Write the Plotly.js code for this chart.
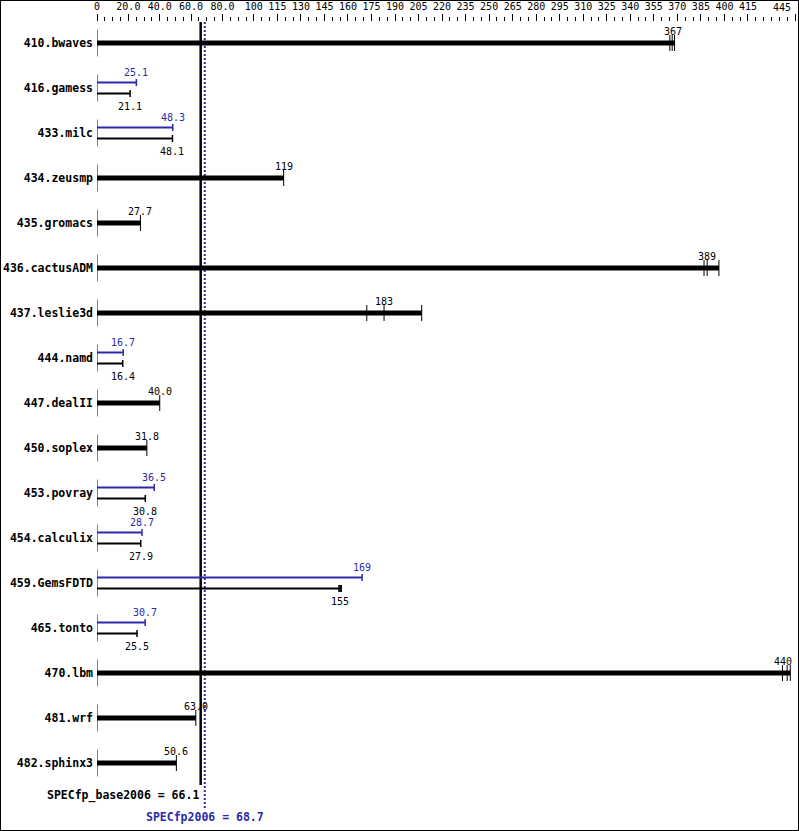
<!DOCTYPE html>
<html>
<head>
<meta charset="utf-8">
<script src="https://cdn.plot.ly/plotly-3.0.1.min.js"></script>
<style>
  html, body { margin: 0; padding: 0; background: #fff; }
  #chart { width: 797px; height: 829px; border: 1px solid #000; }
</style>
</head>
<body>
<div id="chart"></div>
<script>
// ---------- data ----------
const benchmarks = ['410.bwaves','416.gamess','433.milc','434.zeusmp','435.gromacs','436.cactusADM',
  '437.leslie3d','444.namd','447.dealII','450.soplex','453.povray','454.calculix','459.GemsFDTD',
  '465.tonto','470.lbm','481.wrf','482.sphinx3'];
const baseValues = [367, 21.1, 48.1, 119, 27.7, 389, 183, 16.4, 40.0, 31.8, 30.8, 27.9, 155, 25.5, 440, 63.0, 50.6];
const baseLabels = ['367','21.1','48.1','119','27.7','389','183','16.4','40.0','31.8','30.8','27.9','155','25.5','440','63.0','50.6'];
const peakValues = [null, 25.1, 48.3, null, null, null, null, 16.7, null, null, 36.5, 28.7, 169, 30.7, null, null, null];
const peakLabels = ['', '25.1', '48.3', '', '', '', '', '16.7', '', '', '36.5', '28.7', '169', '30.7', '', '', ''];
// individual run results (base)
const baseRuns = [
  [365.2, 366.7, 368.2], [21.1], [48.1], [119], [27.7], [387, 389, 396.5],
  [172, 183, 207], [16.4], [40.0], [31.8], [30.8], [27.9], [154.3, 155, 155.7],
  [25.5], [437, 440, 442], [63.0], [50.6]
];
const specBase = 66.1;
const specPeak = 68.7;
const specBaseLabel = 'SPECfp_base2006 = 66.1';
const specPeakLabel = 'SPECfp2006 = 68.7';
const axisTickVals = [0,20,40,60,80,100,115,130,145,160,175,190,205,220,235,250,265,280,295,310,325,340,355,370,385,400,415,445];
const axisTickText = ['0','20.0','40.0','60.0','80.0','100','115','130','145','160','175','190','205','220','235','250','265','280','295','310','325','340','355','370','385','400','415','445'];
const axisMax = 445;

// ---------- styling ----------
const BLUE = '#2a2aaa';
const MONO = 'DejaVu Sans Mono, monospace';
const PX = 45;               // pixels per row
const thinOff = 5.5 / PX;    // offset of peak/base thin bars from row centre
const capH = 3.5 / PX;
const runH = 8 / PX;
const axisH = 13.5 / PX;
const yTop = -21 / PX;
const yBottom = 16 + 45 / PX;

const rows = benchmarks.map((_, i) => i);
const hasPeak = peakValues.map(v => v !== null);

// last tick label is drawn left of its tick (as in the reference), so keep it out of the axis labels
const shownTickText = axisTickText.map((t, k) => axisTickVals[k] === axisMax ? '' : t);

const traces = [];

// reference lines
traces.push({x: [specBase, specBase], y: [yTop, 16 + 22 / PX], mode: 'lines',
  line: {color: '#000', width: 2.5}, hoverinfo: 'skip'});
traces.push({x: [specPeak, specPeak], y: [yTop, yBottom], mode: 'lines',
  line: {color: BLUE, width: 2, dash: '2px,2px'}, hoverinfo: 'skip'});

// per-row axis stubs at zero
{
  const x = [], y = [];
  rows.forEach(i => { x.push(0, 0, null); y.push(i - axisH, i + axisH, null); });
  traces.push({x, y, mode: 'lines', line: {color: '#000', width: 1}, hoverinfo: 'skip'});
}

// thick base bars (no separate peak)
{
  const x = [], y = [], tx = [], ty = [];
  rows.forEach(i => {
    if (hasPeak[i]) return;
    const mx = Math.max(...baseRuns[i]);
    x.push(0, mx, null); y.push(i, i, null);
    baseRuns[i].forEach(r => { tx.push(r, r, null); ty.push(i - runH, i + runH, null); });
  });
  traces.push({x, y, mode: 'lines', line: {color: '#000', width: 5}, hoverinfo: 'skip'});
  traces.push({x: tx, y: ty, mode: 'lines', line: {color: '#000', width: 1}, hoverinfo: 'skip'});
}

// thin peak bars (blue) and thin base bars (black)
{
  const px = [], py = [], pcx = [], pcy = [];
  const bx = [], by = [], bcx = [], bcy = [];
  rows.forEach(i => {
    if (!hasPeak[i]) return;
    const yp = i - thinOff, yb = i + thinOff;
    px.push(0, peakValues[i], null); py.push(yp, yp, null);
    pcx.push(peakValues[i], peakValues[i], null); pcy.push(yp - capH, yp + capH, null);
    const mx = Math.max(...baseRuns[i]);
    bx.push(0, mx, null); by.push(yb, yb, null);
    baseRuns[i].forEach(r => { bcx.push(r, r, null); bcy.push(yb - capH, yb + capH, null); });
  });
  traces.push({x: px, y: py, mode: 'lines', line: {color: BLUE, width: 2}, hoverinfo: 'skip'});
  traces.push({x: pcx, y: pcy, mode: 'lines', line: {color: BLUE, width: 1.5}, hoverinfo: 'skip'});
  traces.push({x: bx, y: by, mode: 'lines', line: {color: '#000', width: 2}, hoverinfo: 'skip'});
  traces.push({x: bcx, y: bcy, mode: 'lines', line: {color: '#000', width: 1.5}, hoverinfo: 'skip'});
}

// value labels (labels near the right edge are nudged left to stay inside)
const edgeShift = v => (v > axisMax - 10 ? -4 : 0);
const annotations = [];
rows.forEach(i => {
  if (hasPeak[i]) {
    annotations.push({x: peakValues[i], y: i, xref: 'x', yref: 'y', text: peakLabels[i],
      showarrow: false, yshift: 16, xshift: edgeShift(peakValues[i]), font: {family: MONO, size: 10, color: BLUE}});
    annotations.push({x: baseValues[i], y: i, xref: 'x', yref: 'y', text: baseLabels[i],
      showarrow: false, yshift: -18, xshift: edgeShift(baseValues[i]), font: {family: MONO, size: 10, color: '#000'}});
  } else {
    annotations.push({x: baseValues[i], y: i, xref: 'x', yref: 'y', text: baseLabels[i],
      showarrow: false, yshift: 12, xshift: edgeShift(baseValues[i]), font: {family: MONO, size: 10, color: '#000'}});
  }
});
annotations.push({x: specBase, y: 16, xref: 'x', yref: 'y', text: specBaseLabel, showarrow: false,
  xanchor: 'right', yshift: -32, font: {family: MONO, size: 11.5, color: '#000', weight: 'bold'}});
annotations.push({x: specPeak, y: 16, xref: 'x', yref: 'y', text: specPeakLabel, showarrow: false,
  xanchor: 'center', yshift: -54, font: {family: MONO, size: 11.5, color: BLUE, weight: 'bold'}});
// last axis label, placed left of its tick
annotations.push({x: axisMax, y: 1, xref: 'x', yref: 'paper', text: axisTickText[axisTickText.length - 1],
  showarrow: false, xanchor: 'right', yanchor: 'bottom', xshift: -2, yshift: 7,
  font: {family: MONO, size: 10, color: '#000'}});

const layout = {
  width: 797, height: 829,
  margin: {l: 96, r: 3, t: 21, b: 22, pad: 0},
  paper_bgcolor: '#fff', plot_bgcolor: '#fff',
  showlegend: false, hovermode: false,
  xaxis: {
    range: [0, axisMax], side: 'top', tickmode: 'array', tickvals: axisTickVals, ticktext: shownTickText,
    ticks: 'outside', ticklen: 7, tickwidth: 1, tickcolor: '#000',
    showgrid: false, zeroline: false, showline: false, fixedrange: true,
    tickfont: {family: MONO, size: 10, color: '#000'},
    minor: {tick0: 0, dtick: 5, ticks: 'outside', ticklen: 4, tickwidth: 1, tickcolor: '#000', showgrid: false}
  },
  yaxis: {
    range: [yBottom, yTop], tickmode: 'array', tickvals: rows, ticktext: benchmarks,
    ticks: '', showgrid: false, zeroline: false, showline: false, fixedrange: true,
    ticklabelstandoff: 3,
    tickfont: {family: MONO, size: 11.5, color: '#000', weight: 'bold'}
  },
  annotations: annotations
};

Plotly.newPlot('chart', traces, layout, {displayModeBar: false, staticPlot: true});
</script>
</body>
</html>
